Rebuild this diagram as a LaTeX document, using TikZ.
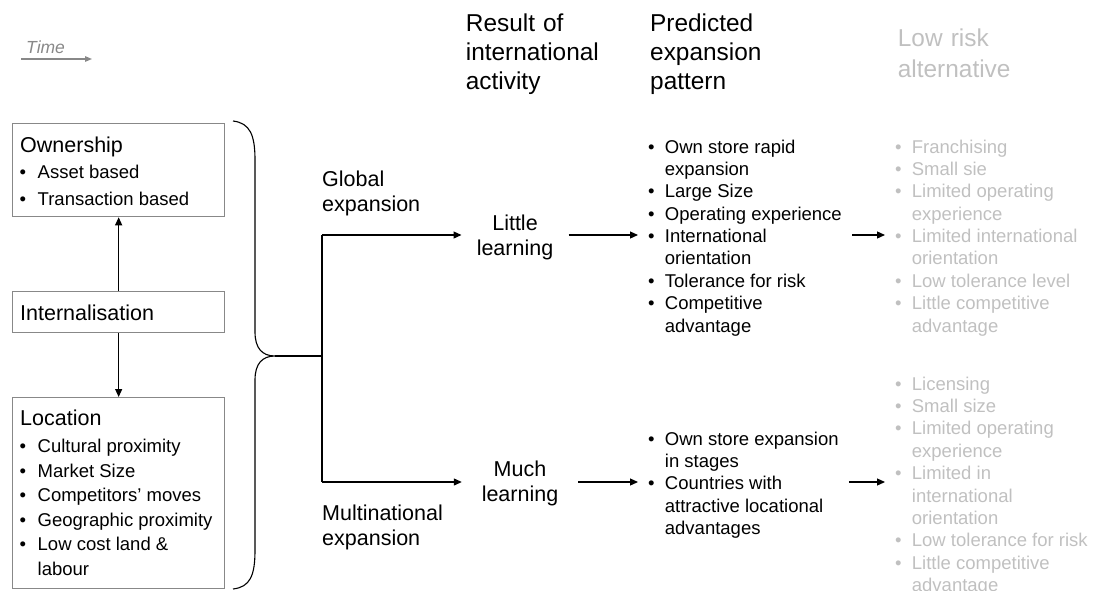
\documentclass[tikz,border=0pt]{standalone}
\usepackage{fontspec}
\setmainfont{Liberation Sans}
\usetikzlibrary{arrows.meta}
\definecolor{lite}{RGB}{192,192,192}
\definecolor{mid}{RGB}{136,136,136}
\newlength\bhang
\setlength\bhang{16.7pt}
% bullet cell of a list row
\newcommand\bl{\makebox[\bhang][l]{\textbullet}}
% a bulleted list whose first row sits on the node baseline
\newenvironment{blist}{\begin{tabular}[t]{@{}l@{}l@{}}}{\end{tabular}}
\begin{document}
\begin{tikzpicture}[x=1pt,y=-1pt,
  box/.style={draw=mid, line width=1.3pt, anchor=north west, inner sep=0pt},
  lbl/.style={inner sep=0pt, anchor=base west, font=\fontsize{21.5}{25}\selectfont},
  mlbl/.style={lbl, text width=#1, align=left},
  head/.style={inner sep=0pt, anchor=base west, text width=170pt, align=left, font=\fontsize{24.4}{28.7}\selectfont},
  lst/.style={inner sep=0pt, anchor=base west, font=\fontsize{18.5}{22.4}\selectfont},
  learn/.style={inner ysep=0pt, anchor=base, text width=100pt, align=center, font=\fontsize{21.5}{25}\selectfont},
  line/.style={line width=1.2pt},
  arr/.style={line, -{Triangle[length=8pt,width=7pt]}}]
\useasboundingbox (0,0) rectangle (1094,591);

% time axis hint
\node[inner sep=0pt, anchor=base west, text=mid, font=\itshape\fontsize{17.5}{20}\selectfont] (time) at (26,54) {Time};
\coordinate (t0) at (21,59);
\coordinate (t1) at (92,59);
\draw[mid, line width=1.2pt, -{Triangle[length=7pt,width=5.5pt]}] (t0) -- (t1);

% column headings
\node[head] (hres) at (465.7,31.7) {Result of\\international\\activity};
\node[head] (hpred) at (650,31.7) {Predicted\\expansion\\pattern};
\node[head, text=lite, font=\fontsize{24.4}{30.6}\selectfont] (hlow) at (897.7,46.7) {Low risk\\alternative};

% OLI boxes
\node[box, minimum width=212pt, minimum height=93pt] (own) at (12,123) {};
\node[box, minimum width=212pt, minimum height=41pt] (intl) at (12,291) {};
\node[box, minimum width=212pt, minimum height=191pt] (loc) at (12,397) {};

\node[lbl] (ownt) at (20,152) {Ownership};
\node[lst, font=\fontsize{18.5}{26.7}\selectfont] (ownl) at (19.5,178.3)
  {\setlength\bhang{18pt}\begin{blist}\bl & Asset based\\ \bl & Transaction based\end{blist}};
\node[lbl] (intlt) at (20,320) {Internalisation};
\node[lbl] (loct) at (20,425) {Location};
\node[lst, font=\fontsize{18.5}{24.5}\selectfont] (locl) at (19.5,452.7)
  {\setlength\bhang{18pt}\begin{blist}\bl & Cultural proximity\\ \bl & Market Size\\
   \bl & Competitors’ moves\\ \bl & Geographic proximity\\ \bl & Low cost land \&\\ & labour\end{blist}};

\draw[arr] (intl.north) -- (own.south);
\draw[arr] (intl.south) -- (loc.north);

% brace gathering the three advantages
\coordinate (tip) at (275,356);
\draw[line width=1.1pt] (233,121) .. controls (250,123) and (255,135) .. (255,160)
  -- (255,332) .. controls (255,348) and (262,356) .. (tip)
  .. controls (262,356) and (255,364) .. (255,380)
  -- (255,550) .. controls (255,576) and (250,587) .. (233,589);

% fork into the two expansion routes
\coordinate (fork) at (322,356);
\coordinate (gup) at (322,235);
\coordinate (gdn) at (322,482);
\draw[line] (tip) -- (fork);
\draw[line] (gup) -- (gdn);

\node[mlbl=130pt] (glob) at (322,186) {Global\\expansion};
\node[mlbl=150pt] (multi) at (322,520) {Multinational\\expansion};

\node[learn, inner xsep=3.3pt] (little) at (515,230) {Little\\learning};
\node[learn, inner xsep=8pt] (much) at (520,476.7) {Much\\learning};

% predicted expansion patterns
\node[lst, inner xsep=10pt] (pred1) at (638,153)
  {\begin{blist}\bl & Own store rapid\\ & expansion\\ \bl & Large Size\\ \bl & Operating experience\\
   \bl & International\\ & orientation\\ \bl & Tolerance for risk\\ \bl & Competitive\\ & advantage\end{blist}};
\node[lst, inner xsep=10pt] (pred2) at (638,445)
  {\begin{blist}\bl & Own store expansion\\ & in stages\\ \bl & Countries with\\ & attractive locational\\
   & advantages\end{blist}};

% low risk alternatives
\node[lst, inner xsep=10pt, text=lite] (risk1) at (885,153)
  {\begin{blist}\bl & Franchising\\ \bl & Small sie\\ \bl & Limited operating\\ & experience\\
   \bl & Limited international\\ & orientation\\ \bl & Low tolerance level\\ \bl & Little competitive\\
   & advantage\end{blist}};
\node[lst, inner xsep=10pt, text=lite] (risk2) at (885,390)
  {\begin{blist}\bl & Licensing\\ \bl & Small size\\ \bl & Limited operating\\ & experience\\
   \bl & Limited in\\ & international\\ & orientation\\ \bl & Low tolerance for risk\\
   \bl & Little competitive\\ & advantage\end{blist}};

% connectors
\draw[arr] (gup) -- (gup -| little.west);
\draw[arr] (gdn) -- (gdn -| much.west);
\draw[arr] (little.east |- gup) -- (pred1.west |- gup);
\draw[arr] (much.east |- gdn) -- (pred2.west |- gdn);
\draw[arr] (pred1.east |- gup) -- (risk1.west |- gup);
\draw[arr] (pred2.east |- gdn) -- (risk2.west |- gdn);
\end{tikzpicture}
\end{document}
